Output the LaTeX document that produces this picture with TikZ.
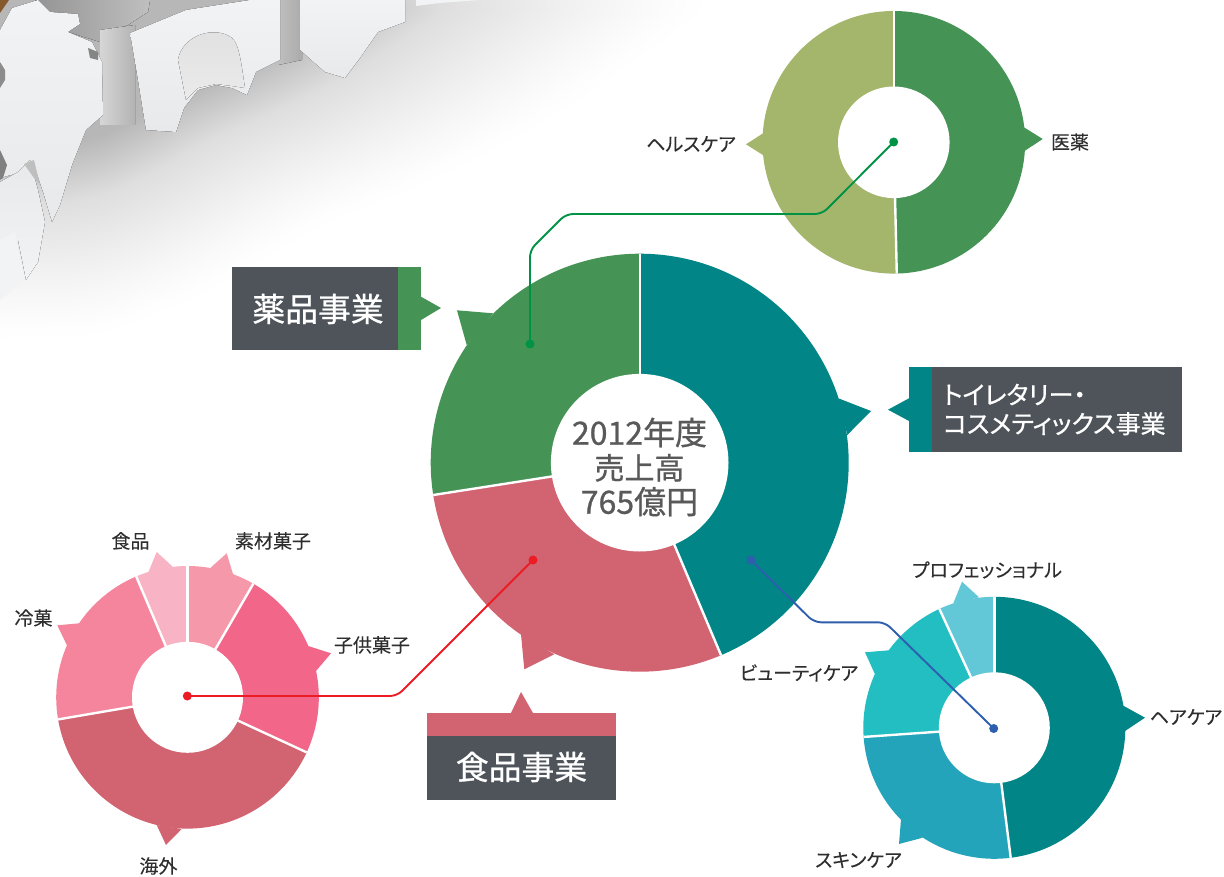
\documentclass[tikz,border=0pt]{standalone}
\usepackage{fontspec}
\setmainfont[RawFeature={+palt},FakeBold=0.12]{Noto Sans CJK JP}
\newfontfamily\heavy[RawFeature={+palt},FakeBold=0.8]{Noto Sans CJK JP}
\definecolor{barDark}{HTML}{4E545A}
\definecolor{gGreen}{HTML}{459455}
\definecolor{gOlive}{HTML}{A4B56C}
\definecolor{gTeal}{HTML}{028587}
\definecolor{gRed}{HTML}{D26371}
\definecolor{pA}{HTML}{F598AA}
\definecolor{pB}{HTML}{F2668A}
\definecolor{pC}{HTML}{F4859C}
\definecolor{pD}{HTML}{F8B4C4}
\definecolor{tA}{HTML}{23A4BA}
\definecolor{tB}{HTML}{22BEC1}
\definecolor{tC}{HTML}{62C8D8}
\definecolor{lineGreen}{HTML}{009245}
\definecolor{lineRed}{HTML}{ED1C24}
\definecolor{lineBlue}{HTML}{2E5FAE}
\definecolor{landTop}{HTML}{F1F3F5}
\definecolor{landLow}{HTML}{E8E9EB}
\newcommand{\sector}[6]{\fill[#6] (#1,#2) -- ++(#4:#3pt) arc[start angle=#4,end angle=#5,radius=#3pt] -- cycle;}
\newcommand{\sepline}[4]{\draw[white,line width=2.4pt] (#1,#2) -- ++(#4:#3pt);}
\tikzset{
  hub/.style={circle,fill=white,inner sep=0pt},
  dotmark/.style={circle,inner sep=0pt,minimum size=9pt},
  lab/.style={text=black!82,font=\fontsize{19}{21}\selectfont,inner sep=0pt,anchor=center},
  barlab/.style={text=white,inner sep=0pt},
  wire/.style={line width=1.9pt,rounded corners=7pt},
}
\begin{document}
\begin{tikzpicture}[x=1pt,y=-1pt]
\useasboundingbox (0,0) rectangle (1224,877);
\fill[white] (0,0) rectangle (1224,877);
% soft shadow of the relief map
\foreach \i in {0,...,50}{
  \pgfmathsetmacro{\s}{1-0.56*(\i/50)^0.8}
  \begin{scope}[shift={(60,0)},scale=\s,shift={(-60,0)}]
    \fill[color=black!45,fill opacity=0.0065,rounded corners=35pt]
      (-200,-5) -- (-200,340) -- (100,336) -- (200,295) -- (320,225) -- (450,172) -- (560,112) -- (670,35) -- (720,-5) -- cycle;
  \end{scope}
}
\foreach \i in {0,...,20}{
  \pgfmathsetmacro{\s}{0.60-0.17*\i/20}
  \begin{scope}[shift={(60,0)},scale=\s,shift={(-60,0)}]
    \fill[color=black!45,fill opacity=0.012,rounded corners=35pt]
      (-200,-5) -- (-200,340) -- (100,336) -- (200,295) -- (320,225) -- (450,172) -- (560,112) -- (670,35) -- (720,-5) -- cycle;
  \end{scope}
}
% shadow columns
\fill[left color=black!42,right color=black!25] (35,0) -- (150,0) -- (148,12) -- (128,25) -- (105,33) -- (100,42) -- (68,32) -- (78,16) -- (50,12) -- cycle;
\fill[left color=black!16,right color=black!30] (100,30) -- (135,25) -- (135,125) -- (100,125) -- cycle;
\fill[left color=black!25,right color=black!33] (278,0) -- (302,0) -- (302,60) -- (278,65) -- cycle;
% land pieces
\fill[top color=landTop,bottom color=landLow] (0,30) -- (12,8) -- (38,0) -- (50,12) -- (78,14) -- (80,24) -- (68,32) -- (92,42) -- (102,62) -- (103,115) -- (86,130) -- (72,165) -- (60,205) -- (52,222) -- (44,195) -- (34,165) -- (22,172) -- (0,178) -- cycle;
\fill[top color=landLow,bottom color=landTop] (0,182) -- (18,172) -- (30,160) -- (38,190) -- (45,222) -- (38,262) -- (26,280) -- (18,240) -- (0,240) -- cycle;
\fill[landTop] (0,240) -- (15,232) -- (25,280) -- (0,300) -- cycle;
\fill[white!55!black] (0,62) -- (5,70) -- (5,80) -- (0,88) -- cycle;
\fill[white!50!black] (0,150) -- (7,165) -- (3,178) -- (0,180) -- cycle;
\fill[white!75!black] (24,164) -- (34,160) -- (40,185) -- (34,178) -- cycle;
\fill[white!52!black] (88,48) -- (98,52) -- (98,60) -- (90,58) -- cycle;
\fill[top color=landTop,bottom color=landLow] (130,33) -- (186,10) -- (250,0) -- (280,0) -- (280,60) -- (256,72) -- (247,95) -- (232,88) -- (216,85) -- (198,90) -- (184,108) -- (176,132) -- (146,130) -- (138,80) -- cycle;
\fill[top color=white!88!black,bottom color=white!92!black] (178,60) .. controls (182,35) and (215,25) .. (232,38) .. controls (240,45) and (242,70) .. (245,88) -- (232,86) -- (216,84) -- (198,88) -- (186,100) -- cycle;
\fill[top color=landTop,bottom color=landLow] (300,0) -- (405,0) -- (405,22) -- (378,32) -- (360,58) -- (345,78) -- (325,72) -- (300,50) -- cycle;
\fill[landTop] (416,0) -- (480,0) -- (440,3) -- (416,6) -- cycle;
\fill[brown!70!black] (0,0) -- (9,0) -- (0,13) -- cycle;
% main donut
\sector{639.7}{462.7}{209}{90}{-67.1}{gTeal}
\sector{639.7}{462.7}{209}{90}{188.9}{gGreen}
\sector{639.7}{462.7}{209}{188.9}{292.9}{gRed}
\fill[gGreen] (457,310.3) -- (493,313.3) -- (466.7,345) -- cycle;
\fill[gTeal] (871,411) -- (838.3,398.3) -- (847.3,435) -- cycle;
\fill[gRed] (524.3,669.3) -- (521,634.3) -- (554.3,654.3) -- cycle;
\sepline{639.7}{462.7}{209}{90}
\sepline{639.7}{462.7}{209}{188.9}
\sepline{639.7}{462.7}{209}{292.9}
\node[hub,minimum size=177.6pt] (mainhub) at (639.7,462.7) {};
% top donut
\sector{893.8}{142.3}{131.3}{90}{-88.7}{gGreen}
\sector{893.8}{142.3}{131.3}{90}{271.3}{gOlive}
\fill[gOlive] (746,144.3) -- (764,132.7) -- (764,155.7) -- cycle;
\fill[gGreen] (1042.7,139) -- (1023,126.7) -- (1023.5,151.7) -- cycle;
\sepline{893.8}{142.3}{131.3}{90}
\sepline{893.8}{142.3}{131.3}{271.3}
\node[hub,minimum size=111.6pt] (tophub) at (893.8,142.3) {};
% left donut
\sector{187.5}{697.3}{131.3}{59.9}{90}{pA}
\sector{187.5}{697.3}{131.3}{-24.8}{59.9}{pB}
\sector{187.5}{697.3}{131.3}{189.7}{335.2}{gRed}
\sector{187.5}{697.3}{131.3}{113}{189.7}{pC}
\sector{187.5}{697.3}{131.3}{90}{113}{pD}
\fill[pA] (226.7,553.3) -- (210,568.3) -- (233.3,575) -- cycle;
\fill[pB] (331,653.3) -- (308.3,646) -- (316,671) -- cycle;
\fill[gRed] (166,845) -- (156.7,825) -- (181.7,829) -- cycle;
\fill[pC] (57.3,625.3) -- (79.3,623.3) -- (67.3,646) -- cycle;
\fill[pD] (156.7,552) -- (148.3,572.3) -- (172.7,566.7) -- cycle;
\foreach \a in {90,59.9,-24.8,189.7,113}{\sepline{187.5}{697.3}{131.3}{\a}}
\node[hub,minimum size=111pt] (lefthub) at (187.5,697.3) {};
% right donut
\sector{994.3}{727.8}{131}{-82.8}{90}{gTeal}
\sector{994.3}{727.8}{131}{184}{277.2}{tA}
\sector{994.3}{727.8}{131}{114.8}{184}{tB}
\sector{994.3}{727.8}{131}{90}{114.8}{tC}
\fill[gTeal] (1145,717.7) -- (1122,705) -- (1124,731.7) -- cycle;
\fill[tA] (899,844) -- (901,819.3) -- (922.7,837.7) -- cycle;
\fill[tB] (865,652.3) -- (889,650.3) -- (875,674.3) -- cycle;
\fill[tC] (962,581.7) -- (953.3,603.3) -- (979,597.3) -- cycle;
\foreach \a in {90,277.2,184,114.8}{\sepline{994.3}{727.8}{131}{\a}}
\node[hub,minimum size=111pt] (righthub) at (994.3,727.8) {};
% connectors
\node[dotmark,fill=lineGreen] (dotGa) at (530,344) {};
\node[dotmark,fill=lineGreen] (dotGb) at (893.7,142) {};
\node[dotmark,fill=lineRed] (dotRa) at (533,560) {};
\node[dotmark,fill=lineRed] (dotRb) at (187.3,696) {};
\node[dotmark,fill=lineBlue] (dotBa) at (751,560) {};
\node[dotmark,fill=lineBlue] (dotBb) at (993.7,728.5) {};
\coordinate (gc1) at (530,250);
\coordinate (gc2) at (566,214);
\coordinate (gc3) at (822,214);
\coordinate (rc1) at (397,696);
\coordinate (bc1) at (814,622.3);
\coordinate (bc2) at (885,622.3);
\draw[wire,lineGreen] (dotGa.center) -- (gc1) -- (gc2) -- (gc3) -- (dotGb.center);
\draw[wire,lineRed] (dotRb.center) -- (rc1) -- (dotRa.center);
\draw[wire,lineBlue] (dotBa.center) -- (bc1) -- (bc2) -- (dotBb.center);
% centre caption
\node[text=black!65,align=center,inner sep=0pt,font=\heavy\fontsize{32}{34.5}\selectfont] (total) at (639.5,467) {2012年度\\{\fontsize{30}{34.5}\selectfont 売上高}\\765億円};
% bars
\fill[barDark] (232,267) rectangle (398,350);
\fill[gGreen] (398,267) rectangle (421,350);
\fill[gGreen] (421,296.7) -- (441,308) -- (421,320) -- cycle;
\node[barlab,font=\heavy\fontsize{32.8}{34}\selectfont] (barA) at (318,309) {薬品事業};
\fill[barDark] (932,367) rectangle (1182,451.7);
\fill[gTeal] (909,367) rectangle (932,451.7);
\fill[gTeal] (909,398.3) -- (888,409.7) -- (909,421) -- cycle;
\node[barlab,anchor=west,font=\heavy\fontsize{25}{29}\selectfont,align=left] (barB) at (943,409.5) {トイレタリー・\\コスメティックス事業};
\fill[gRed] (427,713) rectangle (616,736);
\fill[barDark] (427,736) rectangle (616,800);
\fill[gRed] (511,713) -- (521,692) -- (533,713) -- cycle;
\node[barlab,font=\heavy\fontsize{32.8}{34}\selectfont] (barC) at (521.5,767) {食品事業};
% labels
\node[lab] (l1) at (691,144) {ヘルスケア};
\node[lab] (l2) at (1070,142) {医薬};
\node[lab] (l3) at (273,541) {素材菓子};
\node[lab] (l4) at (130.5,541) {食品};
\node[lab] (l5) at (33.5,618) {冷菓};
\node[lab] (l6) at (372,645) {子供菓子};
\node[lab] (l7) at (158.5,866) {海外};
\node[lab] (l8) at (987,570) {プロフェッショナル};
\node[lab] (l9) at (799,673) {ビューティケア};
\node[lab] (l10) at (1186,717) {ヘアケア};
\node[lab] (l11) at (858.5,860) {スキンケア};
\end{tikzpicture}
\end{document}
